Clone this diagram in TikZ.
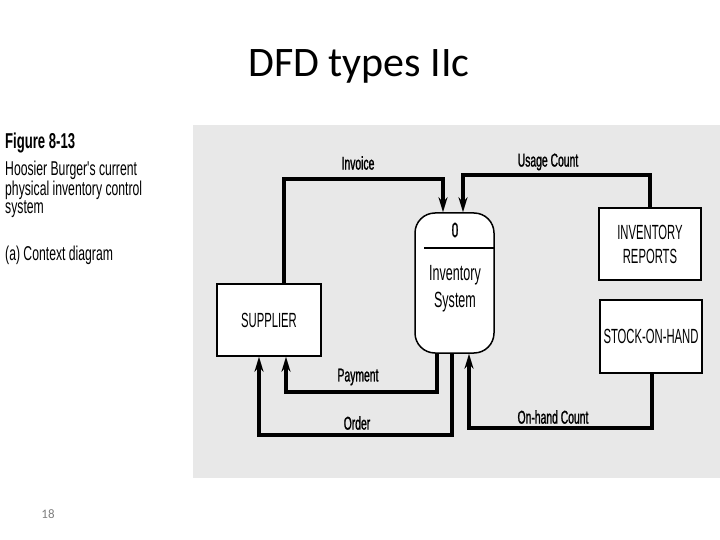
\documentclass[tikz,border=0pt]{standalone}
\usepackage{fontspec}
\setmainfont{Carlito}
\newfontfamily\dfont[FakeStretch=0.55]{Liberation Sans}
\newfontfamily\pfont[FakeStretch=0.57]{Liberation Sans}
\newfontfamily\lfont[FakeStretch=0.56,FakeBold=1.2]{Liberation Sans}
\newfontfamily\cfont[FakeStretch=0.61]{Liberation Sans}
\usetikzlibrary{arrows.meta}
\tikzset{
  entbox/.style={draw=black, line width=1.5pt, fill=white, inner sep=0pt,
    align=center, font=\dfont\fontsize{20.5}{24}\selectfont},
  procbox/.style={draw=black, line width=1.5pt, fill=white, rounded corners=20pt,
    minimum width=79pt, minimum height=140pt, inner sep=0pt},
  flow/.style={line width=3.5pt, -{Stealth[length=15pt,width=9pt]}},
  flowlbl/.style={font=\lfont\fontsize{18.5}{20}\selectfont, inner sep=1pt},
  captxt/.style={anchor=west, inner sep=0pt, font=\cfont\fontsize{20}{22}\selectfont},
}
\begin{document}
\begin{tikzpicture}[x=1pt,y=-1pt]
\useasboundingbox (0,0) rectangle (720,540);
% scanned figure background
\fill[black!9] (193,125) rectangle (720,478);

% title and page number
\node[anchor=base, font=\fontsize{42}{50}\selectfont, inner sep=0pt] (title) at (359,77) {DFD types IIc};
\node[font=\fontsize{13}{15}\selectfont, text=black!50, inner sep=0pt] (pnum) at (48,514) {18};

% caption
\node[captxt, font=\cfont\bfseries\fontsize{21.5}{22}\selectfont] (cap1) at (5,143) {Figure 8-13};
\node[captxt] (cap2) at (5,170) {Hoosier Burger's current};
\node[captxt] (cap3) at (5,190) {physical inventory control};
\node[captxt] (cap4) at (5,209) {system};
\node[captxt] (cap5) at (5,255) {(a) Context diagram};

% entities
\node[entbox, minimum width=104pt, minimum height=72pt] (sup) at (269,320) {SUPPLIER};
\node[entbox, minimum width=102pt, minimum height=72pt] (rep) at (650,244) {INVENTORY\\[0pt]REPORTS};
\node[entbox, minimum width=102pt, minimum height=73pt] (stk) at (651,336.5) {STOCK-ON-HAND};

% process
\node[procbox] (proc) at (454.5,283) {};
\draw[line width=1.5pt] (424,248) -- (proc.east |- 0,248);
\node[font=\lfont\fontsize{21}{22}\selectfont, inner sep=0pt] (pid) at (455,230) {0};
\node[font=\pfont\fontsize{22}{27}\selectfont, align=center, inner sep=0pt] (pname) at (455,289) {Inventory\\System};

% waypoints
\coordinate (c1) at (284,179);
\coordinate (c2) at (443,179);
\coordinate (c3) at (650,175);
\coordinate (c4) at (463,175);
\coordinate (c5) at (437,392);
\coordinate (c6) at (286,392);
\coordinate (c7) at (452,435);
\coordinate (c8) at (259,435);
\coordinate (c9) at (652,428);
\coordinate (c10) at (469,428);

% flows
\draw[flow] (sup.north -| c1) -- (c1) -- (c2) -- (proc.north -| c2);
\draw[flow] (rep.north -| c3) -- (c3) -- (c4) -- (proc.north -| c4);
\draw[flow] (proc.south -| c5) -- (c5) -- (c6) -- (sup.south -| c6);
\draw[flow] (proc.south -| c7) -- (c7) -- (c8) -- (sup.south -| c8);
\draw[flow] (stk.south -| c9) -- (c9) -- (c10) -- (proc.south -| c10);

% flow labels
\node[flowlbl] (linv) at (358,163) {Invoice};
\node[flowlbl] (luse) at (548,162) {Usage Count};
\node[flowlbl] (lpay) at (358,377) {Payment};
\node[flowlbl] (lord) at (357,423) {Order};
\node[flowlbl] (lonh) at (553,417) {On-hand Count};
\end{tikzpicture}
\end{document}
